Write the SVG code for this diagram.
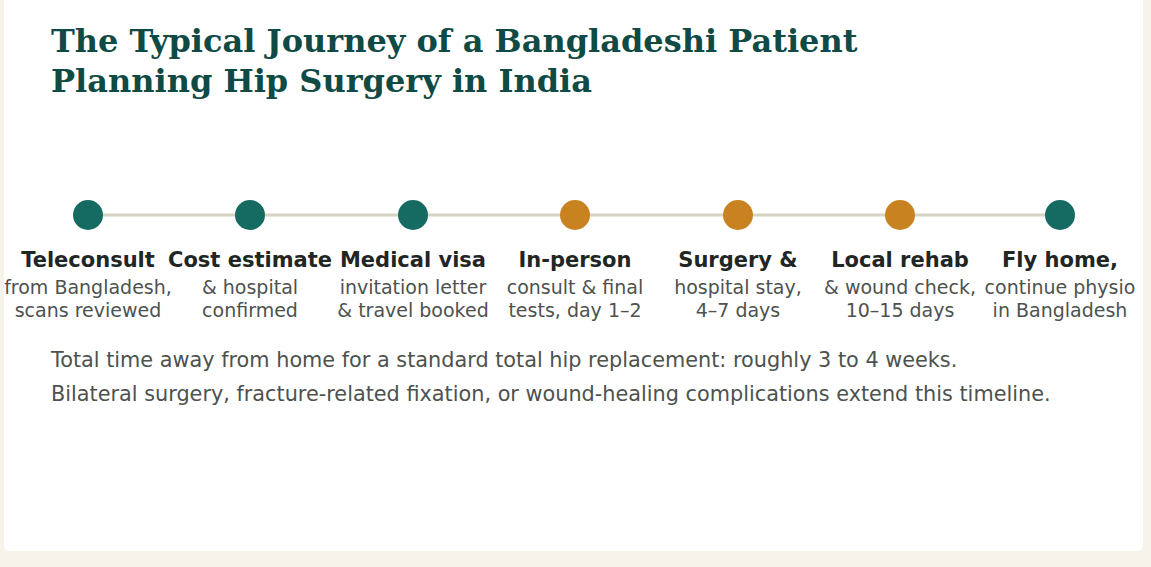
<svg xmlns="http://www.w3.org/2000/svg" width="1151" height="567" viewBox="0 0 1151 567">
<style>
.title{font-family:"DejaVu Serif",serif;font-weight:bold;font-size:32px;fill:#0f4a45}
.lab{font-family:"DejaVu Sans",sans-serif;font-weight:bold;font-size:21px;fill:#1f2624;text-anchor:middle}
.sub{font-family:"DejaVu Sans",sans-serif;font-size:19px;fill:#4d524f;text-anchor:middle}
.note{font-family:"DejaVu Sans",sans-serif;font-size:20.8px;fill:#4d524f}
.teal{fill:#156b62}
.amber{fill:#c98220}
</style>
<rect width="1151" height="567" fill="#f6f3ea"/>
<rect x="4" y="-10" width="1139" height="561" rx="6" fill="#ffffff"/>
<text class="title" x="51" y="52">The Typical Journey of a Bangladeshi Patient</text>
<text class="title" x="51" y="92">Planning Hip Surgery in India</text>
<g id="connectors">
<line x1="88" y1="215" x2="1060" y2="215" stroke="#d6d3c2" stroke-width="3"/>
</g>
<g id="n1"><circle class="teal" cx="88" cy="215" r="15"/><text class="lab" x="88" y="267">Teleconsult</text><text class="sub" x="88" y="294">from Bangladesh,</text><text class="sub" x="88" y="317">scans reviewed</text></g>
<g id="n2"><circle class="teal" cx="250" cy="215" r="15"/><text class="lab" x="250" y="267">Cost estimate</text><text class="sub" x="250" y="294">&amp; hospital</text><text class="sub" x="250" y="317">confirmed</text></g>
<g id="n3"><circle class="teal" cx="413" cy="215" r="15"/><text class="lab" x="413" y="267">Medical visa</text><text class="sub" x="413" y="294">invitation letter</text><text class="sub" x="413" y="317">&amp; travel booked</text></g>
<g id="n4"><circle class="amber" cx="575" cy="215" r="15"/><text class="lab" x="575" y="267">In-person</text><text class="sub" x="575" y="294">consult &amp; final</text><text class="sub" x="575" y="317">tests, day 1–2</text></g>
<g id="n5"><circle class="amber" cx="738" cy="215" r="15"/><text class="lab" x="738" y="267">Surgery &amp;</text><text class="sub" x="738" y="294">hospital stay,</text><text class="sub" x="738" y="317">4–7 days</text></g>
<g id="n6"><circle class="amber" cx="900" cy="215" r="15"/><text class="lab" x="900" y="267">Local rehab</text><text class="sub" x="900" y="294">&amp; wound check,</text><text class="sub" x="900" y="317">10–15 days</text></g>
<g id="n7"><circle class="teal" cx="1060" cy="215" r="15"/><text class="lab" x="1060" y="267">Fly home,</text><text class="sub" x="1060" y="294">continue physio</text><text class="sub" x="1060" y="317">in Bangladesh</text></g>
<text class="note" x="51" y="367">Total time away from home for a standard total hip replacement: roughly 3 to 4 weeks.</text>
<text class="note" x="51" y="401">Bilateral surgery, fracture-related fixation, or wound-healing complications extend this timeline.</text>
</svg>
